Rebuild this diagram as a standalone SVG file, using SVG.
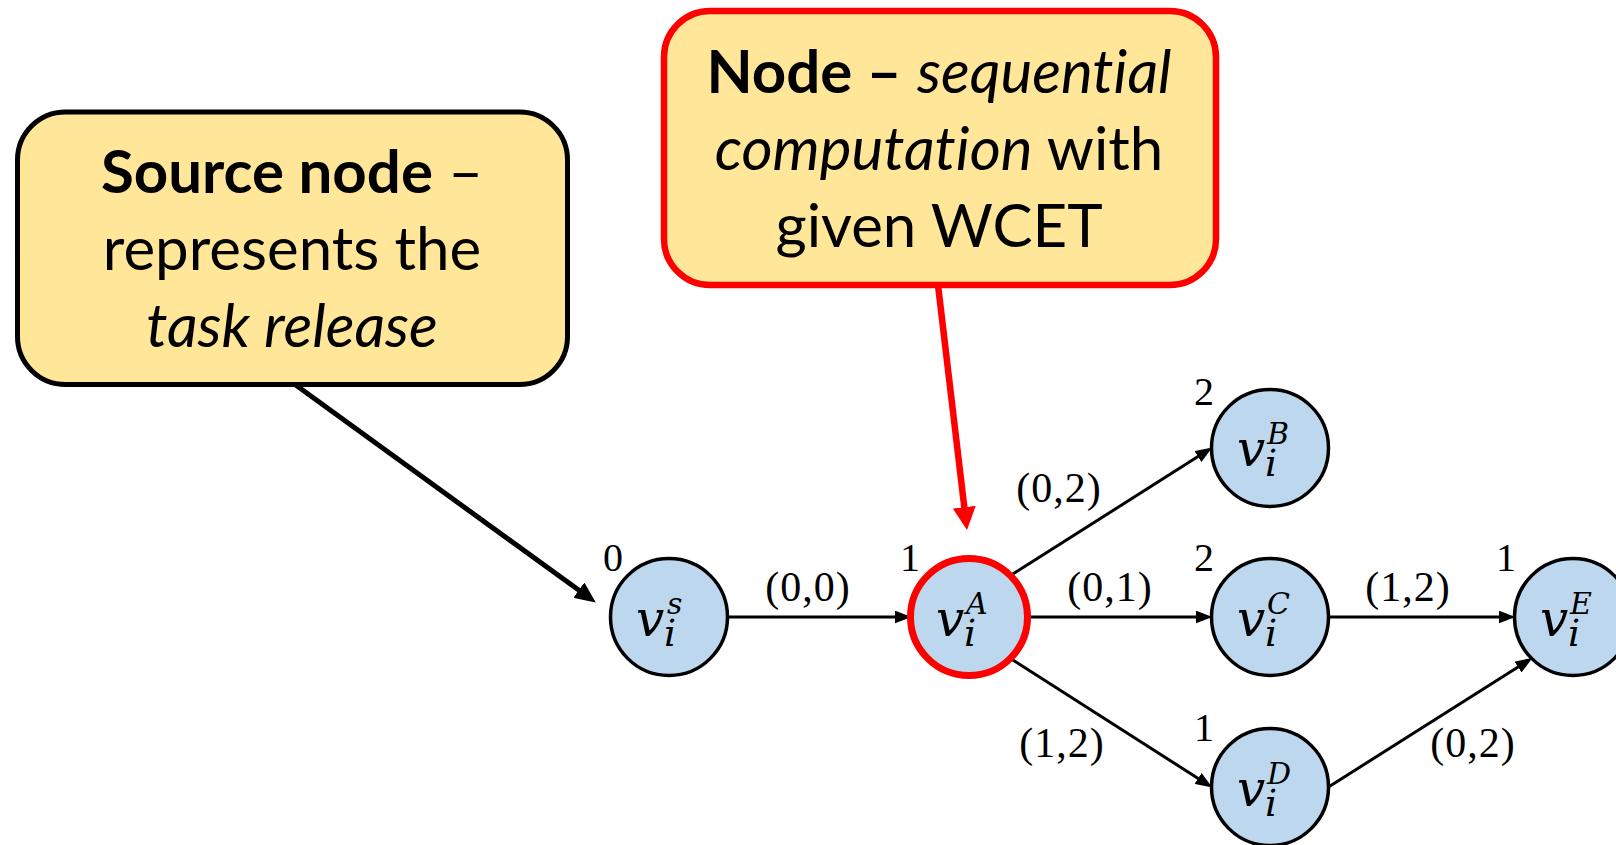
<svg xmlns="http://www.w3.org/2000/svg" width="1616" height="845" viewBox="0 0 1616 845">
  <style>
    .callout { fill: #FFE699; stroke-linejoin: round; }
    .box-text { font-family: Lato, "Liberation Sans", sans-serif; font-size: 60px; fill: #000; text-anchor: middle; font-variant-ligatures: none; }
    .node { fill: #BDD7EE; stroke: #000; stroke-width: 3.5; }
    .node-hl { fill: #BDD7EE; stroke: #FF0000; stroke-width: 7; }
    .math { font-family: "DejaVu Serif", "Liberation Serif", serif; font-style: italic; fill: #000; font-size: 50px; }
    .sup { font-size: 30px; }
    .sub { font-size: 38px; }
    .num { font-family: "Liberation Serif", "DejaVu Serif", serif; font-size: 40px; fill: #000; text-anchor: middle; }
    .elabel { font-family: "Liberation Serif", "DejaVu Serif", serif; font-size: 42px; fill: #000; text-anchor: middle; letter-spacing: 1px; }
    .edge { stroke: #000; stroke-width: 3; fill: none; marker-end: url(#arrow); }
    .pointer { stroke: #000; stroke-width: 5; fill: none; marker-end: url(#arrow-big); }
    .pointer-red { stroke: #FF0000; stroke-width: 6.5; fill: none; marker-end: url(#arrow-red); }
  </style>
  <defs>
    <marker id="arrow" markerUnits="userSpaceOnUse" markerWidth="17" markerHeight="13" refX="8" refY="6.5" orient="auto">
      <path d="M0,0 L17,6.5 L0,13 z" fill="#000"/>
    </marker>
    <marker id="arrow-big" markerUnits="userSpaceOnUse" markerWidth="21" markerHeight="19" refX="10" refY="9.5" orient="auto">
      <path d="M0,0 L21,9.5 L0,19 z" fill="#000"/>
    </marker>
    <marker id="arrow-red" markerUnits="userSpaceOnUse" markerWidth="23" markerHeight="23" refX="11" refY="11.5" orient="auto">
      <path d="M0,0 L23,11.5 L0,23 z" fill="#FF0000"/>
    </marker>
  </defs>

  <rect width="1616" height="845" fill="#FFFFFF"/>

  <!-- graph edges and callout pointers -->
  <g id="connectors">
    <line class="pointer" x1="295" y1="384.5" x2="586.9" y2="596.1"/>
    <line class="pointer-red" x1="938" y1="285" x2="965.6" y2="518.1"/>
    <line class="edge" x1="727.5" y1="617" x2="902.5" y2="617"/>
    <line class="edge" x1="1010.4" y1="575.6" x2="1204.7" y2="452.3"/>
    <line class="edge" x1="1027.5" y1="617" x2="1203.5" y2="617"/>
    <line class="edge" x1="1010.4" y1="658.4" x2="1204.8" y2="782.7"/>
    <line class="edge" x1="1328.5" y1="617" x2="1506.5" y2="617"/>
    <line class="edge" x1="1328.5" y1="787" x2="1524.8" y2="662.7"/>
    <text class="elabel" x="808" y="601">(0,0)</text>
    <text class="elabel" x="1059" y="502">(0,2)</text>
    <text class="elabel" x="1110" y="601">(0,1)</text>
    <text class="elabel" x="1062" y="757">(1,2)</text>
    <text class="elabel" x="1408" y="601">(1,2)</text>
    <text class="elabel" x="1473" y="757">(0,2)</text>
  </g>

  <!-- callout boxes -->
  <g id="callout-source">
    <rect class="callout" x="17.5" y="112" width="550" height="272.5" rx="48" stroke="#000" stroke-width="5"/>
    <text class="box-text" x="292" y="193"><tspan font-weight="bold">Source node</tspan> –</text>
    <text class="box-text" x="292" y="270">represents the</text>
    <text class="box-text" x="292" y="347" font-style="italic">task release</text>
  </g>

  <g id="callout-node">
    <rect class="callout" x="664" y="11" width="552" height="274" rx="46" stroke="#FF0000" stroke-width="6.5"/>
    <text class="box-text" x="939" y="93"><tspan font-weight="bold">Node –</tspan> <tspan font-style="italic">sequential</tspan></text>
    <text class="box-text" x="939" y="170"><tspan font-style="italic">computation</tspan> with</text>
    <text class="box-text" x="939" y="247">given WCET</text>
  </g>

  <!-- DAG nodes: circle, math label, WCET number -->
  <g id="node-vS">
    <circle class="node" cx="669" cy="617" r="58.5"/>
    <text class="math" x="636" y="636">v<tspan class="sup" x="667" y="614">s</tspan><tspan class="sub" x="664" y="646">i</tspan></text>
    <text class="num" x="613" y="571">0</text>
  </g>

  <g id="node-vA">
    <circle class="node-hl" cx="969" cy="617" r="58.5"/>
    <text class="math" x="936" y="636">v<tspan class="sup" x="966" y="614">A</tspan><tspan class="sub" x="964" y="646">i</tspan></text>
    <text class="num" x="910" y="571">1</text>
  </g>

  <g id="node-vB">
    <circle class="node" cx="1270" cy="448" r="58.5"/>
    <text class="math" x="1237" y="466">v<tspan class="sup" x="1267" y="444">B</tspan><tspan class="sub" x="1265" y="476">i</tspan></text>
    <text class="num" x="1204" y="405">2</text>
  </g>

  <g id="node-vC">
    <circle class="node" cx="1270" cy="617" r="58.5"/>
    <text class="math" x="1237" y="636">v<tspan class="sup" x="1267" y="614">C</tspan><tspan class="sub" x="1265" y="646">i</tspan></text>
    <text class="num" x="1204" y="571">2</text>
  </g>

  <g id="node-vD">
    <circle class="node" cx="1270" cy="787" r="58.5"/>
    <text class="math" x="1237" y="806">v<tspan class="sup" x="1267" y="784">D</tspan><tspan class="sub" x="1265" y="816">i</tspan></text>
    <text class="num" x="1204" y="741">1</text>
  </g>

  <g id="node-vE">
    <circle class="node" cx="1573" cy="617" r="58.5"/>
    <text class="math" x="1540" y="636">v<tspan class="sup" x="1570" y="614">E</tspan><tspan class="sub" x="1568" y="646">i</tspan></text>
    <text class="num" x="1506" y="571">1</text>
  </g>
</svg>
